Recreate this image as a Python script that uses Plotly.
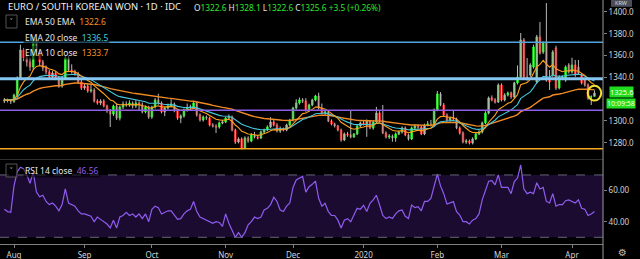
import pandas as pd
import plotly.graph_objects as go

# ---------------- data ----------------
dates = pd.bdate_range("2019-07-29", periods=185)

opens = [1318.3,1319.3,1318.8,1318.0,1323.8,1339.4,1365.1,1357.8,1354.1,1349.5,
         1374.3,1363.3,1354.1,1348.6,1345.0,1340.4,1344.0,1339.4,1332.1,1339.4,
         1357.8,1346.8,1345.0,1343.1,1335.8,1330.3,1332.1,1327.5,1328.4,1318.3,
         1316.5,1318.3,1313.8,1309.2,1306.4,1313.8,1302.7,1312.8,1315.6,1314.7,
         1316.5,1313.8,1316.5,1314.7,1308.3,1312.8,1303.7,1312.8,1319.3,1316.5,
         1308.3,1311.9,1313.8,1315.6,1309.2,1302.7,1304.6,1310.1,1311.9,1312.8,
         1316.5,1305.5,1300.9,1303.7,1302.7,1296.3,1295.4,1294.5,1298.2,1299.1,
         1302.7,1303.7,1291.7,1280.7,1283.5,1275.2,1284.4,1281.6,1287.2,1285.3,
         1284.4,1289.9,1291.7,1294.5,1299.1,1296.3,1290.8,1292.6,1291.7,1296.3,
         1300.9,1311.9,1316.5,1319.3,1318.3,1310.1,1314.7,1319.3,1322.9,1311.9,
         1307.3,1308.3,1300.0,1297.2,1295.4,1291.7,1282.6,1288.1,1287.2,1285.3,
         1288.1,1295.4,1298.2,1297.2,1300.0,1293.6,1299.1,1307.3,1300.0,1289.0,
         1285.3,1286.2,1284.4,1288.1,1289.9,1293.6,1287.2,1283.5,1293.6,1295.4,
         1294.5,1288.1,1296.3,1297.2,1296.3,1310.1,1324.8,1314.7,1305.5,1300.9,
         1302.7,1301.8,1293.6,1289.0,1280.7,1281.6,1279.8,1283.5,1288.1,1289.9,
         1298.2,1307.3,1321.1,1319.3,1317.4,1333.0,1319.3,1323.8,1325.7,1322.0,
         1334.9,1340.4,1374.3,1340.4,1342.2,1349.5,1335.8,1377.1,1363.3,1371.6,
         1337.6,1342.2,1367.0,1330.3,1340.4,1337.6,1351.4,1345.0,1351.4,1349.5,
         1342.2,1337.6,1333.0,1322.0,1322.6]

highs = [1321.1,1320.5,1320.0,1325.0,1341.0,1370.0,1367.0,1362.0,1358.0,1377.0,
         1376.0,1366.0,1356.0,1351.0,1347.0,1346.0,1345.5,1341.0,1341.0,1360.0,
         1359.5,1352.0,1347.0,1345.0,1338.0,1334.0,1334.0,1333.0,1330.0,1320.0,
         1320.0,1320.0,1315.0,1311.0,1315.0,1316.0,1314.0,1318.0,1318.0,1319.0,
         1318.0,1319.0,1318.0,1317.0,1314.0,1314.0,1314.0,1321.0,1325.0,1318.0,
         1313.0,1316.0,1320.0,1317.0,1311.0,1306.0,1311.5,1316.0,1315.0,1318.0,
         1318.0,1307.0,1305.0,1305.0,1304.0,1298.0,1297.0,1299.5,1301.0,1304.0,
         1306.0,1305.0,1293.0,1285.0,1285.0,1286.0,1286.0,1289.0,1290.0,1287.0,
         1291.0,1293.0,1296.0,1303.5,1301.0,1298.0,1295.0,1294.0,1297.5,1302.0,
         1313.0,1320.0,1321.5,1321.0,1321.0,1316.0,1320.5,1324.0,1326.0,1316.0,
         1310.0,1309.5,1301.5,1298.5,1296.5,1293.0,1289.5,1290.0,1310.0,1289.0,
         1296.5,1299.5,1300.0,1301.5,1301.0,1300.5,1313.0,1309.0,1314.7,1290.5,
         1288.0,1287.5,1289.5,1291.0,1295.0,1295.0,1288.5,1295.0,1297.0,1297.0,
         1296.0,1297.5,1300.0,1301.0,1311.5,1327.5,1326.5,1316.5,1307.0,1304.0,
         1310.0,1303.0,1295.0,1290.5,1283.5,1283.0,1285.0,1289.5,1291.5,1299.5,
         1309.0,1322.5,1323.5,1321.0,1334.5,1334.5,1325.5,1327.0,1327.0,1336.0,
         1351.0,1380.7,1376.0,1357.8,1353.0,1370.0,1379.0,1390.8,1373.0,1408.2,
         1346.8,1365.0,1369.0,1342.0,1342.0,1351.0,1353.0,1358.0,1356.0,1356.0,
         1344.0,1339.0,1334.5,1323.5,1328.1]

lows = [1316.5,1317.0,1315.6,1316.5,1322.0,1338.0,1355.0,1350.0,1346.0,1347.0,
        1361.0,1351.0,1346.0,1343.0,1338.5,1338.5,1337.5,1330.5,1330.5,1338.0,
        1345.0,1343.5,1341.5,1334.0,1328.5,1328.5,1326.0,1326.0,1317.0,1315.0,
        1314.5,1312.5,1307.5,1294.5,1304.5,1301.0,1300.5,1311.0,1313.0,1313.0,
        1311.5,1312.0,1310.0,1307.0,1307.0,1302.0,1302.0,1311.5,1315.0,1307.0,
        1304.5,1310.5,1312.5,1308.0,1301.0,1298.0,1303.0,1308.5,1310.0,1311.5,
        1304.0,1299.5,1299.5,1301.0,1295.0,1294.0,1289.0,1293.0,1297.0,1298.0,
        1301.5,1290.5,1279.0,1279.5,1274.0,1274.5,1280.0,1280.5,1284.0,1283.0,
        1283.5,1288.5,1290.5,1293.5,1295.0,1289.5,1289.0,1290.5,1290.5,1295.0,
        1299.5,1310.5,1315.0,1316.5,1308.5,1308.5,1313.5,1318.0,1310.5,1306.0,
        1305.5,1299.0,1296.0,1294.0,1290.5,1281.0,1281.5,1285.5,1284.0,1284.5,
        1287.0,1294.0,1296.0,1285.5,1292.5,1292.0,1298.0,1299.0,1288.0,1284.0,
        1283.5,1281.0,1281.0,1287.0,1288.5,1286.0,1282.0,1282.5,1292.5,1293.0,
        1287.0,1287.0,1295.0,1295.0,1295.0,1309.0,1313.5,1304.0,1299.5,1299.5,
        1300.0,1292.5,1287.5,1279.5,1279.0,1278.5,1278.5,1282.5,1287.0,1288.5,
        1297.0,1306.0,1318.0,1316.0,1316.5,1318.0,1318.0,1322.5,1320.5,1321.0,
        1333.5,1339.0,1339.0,1337.0,1340.5,1348.0,1334.0,1361.0,1361.5,1336.0,
        1328.4,1340.5,1328.5,1329.0,1337.5,1336.0,1343.5,1343.5,1340.5,1342.5,
        1333.5,1331.5,1319.5,1314.7,1322.6]

closes = [1319.3,1318.8,1318.0,1323.8,1339.4,1365.1,1357.8,1354.1,1349.5,1374.3,
          1363.3,1354.1,1348.6,1345.0,1340.4,1344.0,1339.4,1332.1,1339.4,1357.8,
          1346.8,1345.0,1343.1,1335.8,1330.3,1332.1,1327.5,1328.4,1318.3,1316.5,
          1318.3,1313.8,1309.2,1306.4,1313.8,1302.7,1312.8,1315.6,1314.7,1316.5,
          1313.8,1316.5,1314.7,1308.3,1312.8,1303.7,1312.8,1319.3,1316.5,1308.3,
          1311.9,1313.8,1315.6,1309.2,1302.7,1304.6,1310.1,1311.9,1312.8,1316.5,
          1305.5,1300.9,1303.7,1302.7,1296.3,1295.4,1294.5,1298.2,1299.1,1302.7,
          1303.7,1291.7,1280.7,1283.5,1275.2,1284.4,1281.6,1287.2,1285.3,1284.4,
          1289.9,1291.7,1294.5,1299.1,1296.3,1290.8,1292.6,1291.7,1296.3,1300.9,
          1311.9,1316.5,1319.3,1318.3,1310.1,1314.7,1319.3,1322.9,1311.9,1307.3,
          1308.3,1300.0,1297.2,1295.4,1291.7,1282.6,1288.1,1287.2,1285.3,1288.1,
          1295.4,1298.2,1297.2,1300.0,1293.6,1299.1,1307.3,1300.0,1289.0,1285.3,
          1286.2,1284.4,1288.1,1289.9,1293.6,1287.2,1283.5,1293.6,1295.4,1294.5,
          1288.1,1296.3,1297.2,1296.3,1310.1,1324.8,1314.7,1305.5,1300.9,1302.7,
          1301.8,1293.6,1289.0,1280.7,1281.6,1279.8,1283.5,1288.1,1289.9,1298.2,
          1307.3,1321.1,1319.3,1317.4,1333.0,1319.3,1323.8,1325.7,1322.0,1334.9,
          1340.4,1374.3,1340.4,1338.5,1351.4,1367.9,1377.1,1362.4,1371.6,1337.6,
          1335.8,1363.3,1330.3,1340.4,1339.4,1349.5,1345.0,1351.4,1342.2,1344.0,
          1334.9,1333.0,1321.1,1322.1,1325.6]

rsi = [48,46.5,46,63,72,75,74,70,64.7,72,
       59,56,57,53,51,52,50,47,51,61,
       52,51,50,47,45,45,44,43.5,40,43,
       41.5,40,38.5,36,41,36,43,44,46,44,
       45,43,45,42,45,40,48,50,49,45,
       46,47,47,44,41.5,42,45,47,48,53,
       46.5,43,42,41.5,40,39,40,39.5,37,45,
       39,34,30,33,30,33,38,40,43,42,
       43,47.5,48.6,51,55.7,53,47.5,46.5,50,52,
       62,66.8,68,69,59,62.5,64,66,55,50,
       51.8,46.5,44,44,41,36,41,42,40,44,
       48.6,48,50.5,46.5,51.8,54,57,50.7,44,42,
       43,42,45,47,47.5,43.5,42,50.7,49,49.7,
       47,53,53,55,63,70.6,63,58,51.4,52.4,
       52.9,46.5,44.3,40,40,38.5,41,42,45,54,
       60,66,66.4,63.6,70,62,62,62,58,65.7,
       68,76.4,61,58,59,58,65,61,62,53,
       52,58,50,51,51,53.5,54,53,52,54,
       48.6,48,44,45,46.56]

level_prices = [1372.2, 1338.8, 1309.8, 1274.6]
price_ticks = [1280, 1300, 1340, 1360, 1380, 1400]   # 1320 is hidden by the last-price label
rsi_ticks = [40, 60]
rsi_bands = [30, 70]

header = "EURO / SOUTH KOREAN WON · 1D · IDC"
ohlc_text = ("O<span style='color:#2ee62e'>1322.6</span> H<span style='color:#2ee62e'>1328.1</span> "
             "L<span style='color:#2ee62e'>1322.6</span> C<span style='color:#2ee62e'>1325.6 +3.5 (+0.26%)</span>")
legend_rows = [("EMA 50 EMA", "1322.6"), ("EMA 20 close", "1336.5"), ("EMA 10 close", "1333.7")]
rsi_label = ("RSI 14 close", "46.56")
last_label = "1325.6"
countdown = "10:09:58"

# ---------------- styles ----------------
W, H = 640, 259
ML, MR, MT, MB = 0, 37, 0, 15
PW, PH = W - ML - MR, H - MT - MB      # 603 x 244
UP, DOWN, WICK = "#19e619", "#f01414", "#b8b8b8"
level_colors = ["#4fa6de", "#86c6f2", "#8e5ee8", "#f5a623"]
level_widths = [1.5, 3, 1.6, 1.5]
ema_colors = {50: "#f08a24", 20: "#45c8dc", 10: "#ff9f1c"}
legend_val_colors = ["#f5922a", "#45c8dc", "#f5922a"]
FONT = "Noto Sans"
pitch = 3.207
x_lo = -1.366
x_hi = x_lo + PW / pitch
price_bot_px = 159
p_scale = 0.9174   # price per px
p_top = 1411.0
p_bot = p_top - p_scale * price_bot_px


def px_x(p):
    return p / PW


def px_y(p):
    return (PH - p) / PH


idx = list(range(len(closes)))
s = pd.Series(closes)
emas = {n: s.ewm(span=n, adjust=False).mean() for n in (50, 20, 10)}

fig = go.Figure()

# wicks
wx, wy = [], []
for i in idx:
    wx += [i, i, None]
    wy += [lows[i], highs[i], None]
fig.add_trace(go.Scatter(x=wx, y=wy, mode="lines", line=dict(color=WICK, width=1),
                         xaxis="x", yaxis="y", hoverinfo="skip"))
# bodies
fig.add_trace(go.Candlestick(
    x=idx, open=opens, close=closes,
    high=[max(o, c) for o, c in zip(opens, closes)],
    low=[min(o, c) for o, c in zip(opens, closes)],
    increasing=dict(line=dict(color=UP, width=1), fillcolor=UP),
    decreasing=dict(line=dict(color=DOWN, width=1), fillcolor=DOWN),
    whiskerwidth=0, xaxis="x", yaxis="y"))

for n, w in ((50, 1.4), (20, 1.1), (10, 1.1)):
    fig.add_trace(go.Scatter(x=idx, y=emas[n], mode="lines",
                             line=dict(color=ema_colors[n], width=w),
                             xaxis="x", yaxis="y", hoverinfo="skip"))

fig.add_trace(go.Scatter(x=idx, y=rsi, mode="lines", line=dict(color="#8e5cf0", width=1.2),
                         xaxis="x2", yaxis="y2", hoverinfo="skip"))

shapes = []
shapes.append(dict(type="rect", xref="x2", yref="y2", x0=x_lo, x1=x_hi, y0=rsi_bands[0], y1=rsi_bands[1],
                   fillcolor="#1c0b31", line=dict(width=0), layer="below"))
for b in rsi_bands:
    shapes.append(dict(type="line", xref="x2", yref="y2", x0=x_lo, x1=x_hi, y0=b, y1=b,
                       line=dict(color="#66667a", width=1, dash="dash")))
for p, c, w in zip(level_prices, level_colors, level_widths):
    shapes.append(dict(type="line", xref="x", yref="y", x0=x_lo, x1=x_hi, y0=p, y1=p,
                       line=dict(color=c, width=w)))
shapes.append(dict(type="line", xref="paper", yref="paper", x0=0, x1=1,
                   y0=px_y(159.5), y1=px_y(159.5), line=dict(color="#2e2e2e", width=1)))
shapes.append(dict(type="line", xref="paper", yref="paper", x0=1, x1=1,
                   y0=px_y(H), y1=1, line=dict(color="#9a9a9a", width=1)))
last_i = idx[-1]
shapes.append(dict(type="circle", xref="x", yref="y",
                   x0=last_i - 2.1, x1=last_i + 2.1,
                   y0=closes[-1] - 6.8, y1=closes[-1] + 6.8,
                   line=dict(color="#f2e232", width=2)))
for y0, y1 in ((15, 28), (164, 177)):
    shapes.append(dict(type="rect", xref="paper", yref="paper",
                       x0=px_x(6), x1=px_x(17), y0=px_y(y1), y1=px_y(y0),
                       line=dict(color="#555", width=1), fillcolor="rgba(0,0,0,0.6)"))
# KRW badge drawn as a shape, text placed on top
shapes.append(dict(type="rect", xref="paper", yref="paper",
                   x0=px_x(611), x1=px_x(632), y0=px_y(6.8), y1=px_y(0),
                   fillcolor="#4a4e5a", line=dict(width=0)))

ann = []
ann.append(dict(text=header, x=px_x(6), y=px_y(7), xref="paper", yref="paper",
                xanchor="left", yanchor="middle", showarrow=False,
                font=dict(family=FONT, size=9.4, color="#f0f0f0")))
ann.append(dict(text=ohlc_text, x=px_x(192), y=px_y(7.5), xref="paper", yref="paper",
                xanchor="left", yanchor="middle", showarrow=False,
                font=dict(family=FONT, size=8.3, color="#e8e8e8")))
for (lab, val), yy, vc in zip(legend_rows, (21, 37, 53), legend_val_colors):
    ann.append(dict(text=f"{lab}  <span style='color:{vc}'>{val}</span>", x=px_x(23), y=px_y(yy),
                    xref="paper", yref="paper", xanchor="left", yanchor="middle", showarrow=False,
                    bgcolor="rgba(0,0,0,0.55)", borderpad=1,
                    font=dict(family=FONT, size=8.5, color="#e8e8e8")))
for yy in (21, 170.5):
    ann.append(dict(text="˅", x=px_x(11.5), y=px_y(yy), xref="paper", yref="paper",
                    xanchor="center", yanchor="middle", showarrow=False,
                    font=dict(family=FONT, size=9, color="#dddddd")))
ann.append(dict(text=f"{rsi_label[0]}  <span style='color:#8e5cf0'>{rsi_label[1]}</span>",
                x=px_x(23), y=px_y(170.5), xref="paper", yref="paper", xanchor="left", yanchor="middle",
                showarrow=False, bgcolor="rgba(0,0,0,0.55)", borderpad=1,
                font=dict(family=FONT, size=8.5, color="#e8e8e8")))
ann.append(dict(text="KRW", x=px_x(621.5), y=px_y(2.8), xref="paper", yref="paper",
                xanchor="center", yanchor="middle", showarrow=False, borderpad=0,
                font=dict(family=FONT, size=5.5, color="#d8d8d8")))
ann.append(dict(text=last_label, x=px_x(621), y=px_y(92.5), xref="paper", yref="paper",
                xanchor="center", yanchor="middle", showarrow=False, bgcolor="#1fdc1f", borderpad=0,
                font=dict(family=FONT, size=7.5, color="#f4fff4")))
ann.append(dict(text=countdown, x=px_x(621), y=px_y(103.5), xref="paper", yref="paper",
                xanchor="center", yanchor="middle", showarrow=False, bgcolor="#1fdc1f", borderpad=0,
                font=dict(family=FONT, size=7, color="#f4fff4")))
ann.append(dict(text="⚙", x=px_x(622), y=px_y(252), xref="paper", yref="paper",
                xanchor="center", yanchor="middle", showarrow=False,
                font=dict(family="DejaVu Sans", size=10, color="#bbbbbb")))

tickvals, ticktext = [], []
for i in range(1, len(dates)):
    if dates[i].month != dates[i - 1].month:
        tickvals.append(i)
        ticktext.append("2020" if dates[i].month == 1 else dates[i].strftime("%b"))

axis_font = dict(family=FONT, size=8, color="#d4d4d4")
fig.update_layout(
    width=W, height=H, margin=dict(l=ML, r=MR, t=MT, b=MB),
    paper_bgcolor="#000000", plot_bgcolor="#000000",
    showlegend=False, hovermode=False, shapes=shapes, annotations=ann,
    xaxis=dict(domain=[0, 1], range=[x_lo, x_hi], anchor="y", showticklabels=False,
               showgrid=False, zeroline=False, rangeslider=dict(visible=False), fixedrange=True),
    xaxis2=dict(domain=[0, 1], range=[x_lo, x_hi], anchor="y2", matches="x",
                tickvals=tickvals, ticktext=ticktext, ticks="outside", ticklen=3,
                tickcolor="#808080", showline=True, linecolor="#808080", linewidth=1,
                showgrid=False, zeroline=False, tickfont=axis_font),
    yaxis=dict(domain=[px_y(price_bot_px), 1], range=[p_bot, p_top], side="right", anchor="x",
               tickvals=price_ticks, ticktext=[f"{v:.1f}" for v in price_ticks],
               ticks="outside", ticklen=3, tickcolor="#808080",
               showgrid=False, zeroline=False, tickfont=axis_font),
    yaxis2=dict(domain=[0, px_y(160)], range=[25.7, 79.6], side="right", anchor="x2",
                tickvals=rsi_ticks, ticktext=[f"{v:.2f}" for v in rsi_ticks],
                ticks="outside", ticklen=3, tickcolor="#808080",
                showgrid=False, zeroline=False, tickfont=axis_font),
)

fig.write_html("out.html")
